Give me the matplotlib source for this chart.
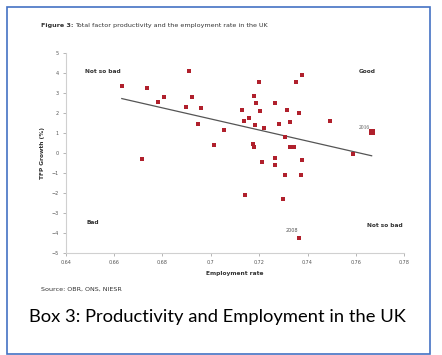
import numpy as np
import matplotlib
matplotlib.use("Agg")
import matplotlib.pyplot as plt
from matplotlib.patches import Rectangle

# employment rate vs TFP growth (%), one point per year
emp_rate = [0.6632, 0.6737, 0.6783, 0.6808, 0.6911, 0.6923, 0.6897, 0.6959,
            0.7129, 0.7198, 0.7180, 0.7351, 0.7376, 0.7186, 0.7203, 0.7264,
            0.7315, 0.7363, 0.7157, 0.7136, 0.6946, 0.7183, 0.7281, 0.7326,
            0.7494, 0.7056, 0.7220, 0.7306, 0.7014, 0.7173, 0.7179, 0.7329,
            0.7343, 0.7587, 0.6717, 0.7264, 0.7210, 0.7376, 0.7264, 0.7308,
            0.7373, 0.7143, 0.7299, 0.7366, 0.7665]
tfp_growth = [3.38, 3.25, 2.57, 2.80, 4.12, 2.82, 2.30, 2.28,
              2.15, 3.57, 2.85, 3.57, 3.90, 2.50, 2.13, 2.50,
              2.17, 2.00, 1.78, 1.62, 1.48, 1.43, 1.45, 1.55,
              1.60, 1.15, 1.27, 0.83, 0.43, 0.48, 0.30, 0.33,
              0.33, -0.04, -0.27, -0.22, -0.42, -0.34, -0.60, -1.09,
              -1.09, -2.10, -2.27, -4.22, 1.08]
x_2016, y_2016 = 0.7665, 1.08
x_2008, y_2008 = 0.7366, -4.22

xticks = [0.64, 0.66, 0.68, 0.70, 0.72, 0.74, 0.76, 0.78]
xtick_labels = ["0.64", "0.66", "0.68", "0.7", "0.72", "0.74", "0.76", "0.78"]
yticks = [-5, -4, -3, -2, -1, 0, 1, 2, 3, 4, 5]

red = "#B0202C"
grey_txt = "#555555"
dark = "#333333"

fig = plt.figure(figsize=(4.42, 3.55), dpi=100)
fig.patch.set_facecolor("white")

# blue frame round the whole box
fig.patches.append(Rectangle((7 / 442, 1.5 / 355), 423 / 442, 346.5 / 355,
                             transform=fig.transFigure, fill=False,
                             edgecolor="#4472C4", linewidth=1.2))

ax = fig.add_axes([0.1486, 0.2865, 0.7661, 0.5634])

ax.scatter(emp_rate, tfp_growth, marker="s", s=7, color=red, zorder=3,
           linewidths=0)
ax.scatter([x_2016], [y_2016], marker="s", s=14, color=red, zorder=3,
           linewidths=0)

# linear trend
coef = np.polyfit(emp_rate, tfp_growth, 1)
xs = np.array([min(emp_rate), max(emp_rate)])
ax.plot(xs, np.polyval(coef, xs), color="#555555", linewidth=0.9, zorder=2)

ax.set_xlim(0.64, 0.78)
ax.set_ylim(-5, 5)
ax.set_xticks(xticks)
ax.set_xticklabels(xtick_labels)
ax.set_yticks(yticks)
ax.tick_params(labelsize=3.5, colors="#999999", labelcolor=grey_txt,
               length=2, width=0.5, pad=3)
for side in ["top", "right"]:
    ax.spines[side].set_visible(False)
for side in ["left", "bottom"]:
    ax.spines[side].set_color("#d0d0d0")
    ax.spines[side].set_linewidth(0.8)

ax.set_xlabel("Employment rate", fontsize=4.2, fontweight="bold",
              color=dark, labelpad=4)
ax.set_ylabel("TFP Growth (%)", fontsize=4.2, fontweight="bold",
              color=dark, labelpad=5)

# quadrant notes
ax.text(0.648, 4.07, "Not so bad", fontsize=4.2, fontweight="bold",
        color=dark, va="center")
ax.text(0.7613, 4.1, "Good", fontsize=4.2, fontweight="bold",
        color=dark, va="center")
ax.text(0.6488, -3.47, "Bad", fontsize=4.2, fontweight="bold",
        color=dark, va="center")
ax.text(0.7645, -3.62, "Not so bad", fontsize=4.2, fontweight="bold",
        color=dark, va="center")
ax.text(0.7656, 1.3, "2016", fontsize=4, color=grey_txt, ha="right",
        va="center", family="Liberation Serif")
ax.text(x_2008 - 0.003, y_2008 + 0.34, "2008", fontsize=3.5, color=grey_txt,
        ha="center", va="center")

# title: bold lead-in followed by normal text
t1 = fig.text(41 / 442, 1 - 26 / 355, "Figure 3:", fontsize=4.6,
              fontweight="bold", color=dark, va="center")
fig.canvas.draw()
bb = t1.get_window_extent()
fig.text((bb.x1 + 2) / 442, 1 - 26 / 355,
         "Total factor productivity and the employment rate in the UK",
         fontsize=4.6, color=dark, va="center")
fig.text(41 / 442, 1 - 289 / 355, "Source: OBR, ONS, NIESR", fontsize=4.6,
         color=dark, va="center")
fig.text(217 / 442, 1 - 317 / 355,
         "Box 3: Productivity and Employment in the UK",
         fontsize=13.2, color="black", ha="center", va="center",
         family="Lato")

fig.savefig("out.png", dpi=100, facecolor="white")
